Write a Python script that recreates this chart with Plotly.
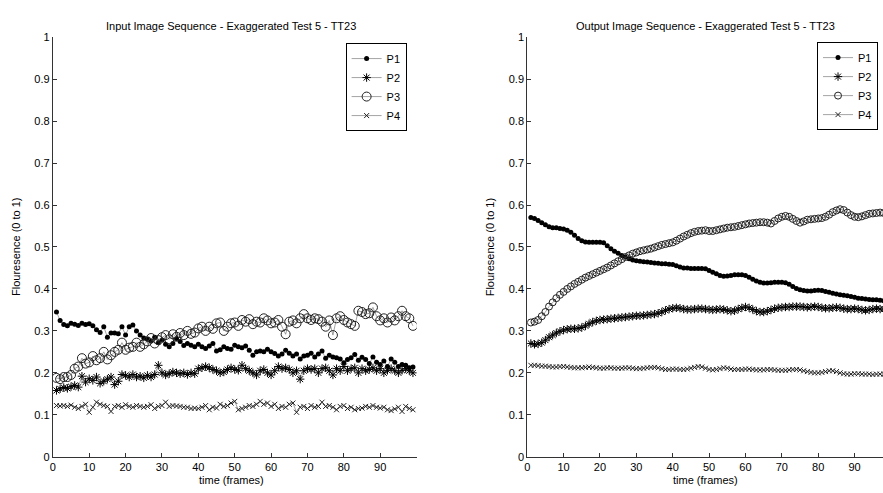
import plotly.graph_objects as go

frames = list(range(1, 100))

in_p1 = [.345, .325, .315, .312, .318, .316, .313, .318, .315, .317, .312, .303, .296, .31, .285, .295, .295, .293, .31, .29,
         .31, .314, .30, .29, .283, .28, .276, .285, .272, .278, .268, .262, .27, .282, .275, .265, .27, .266, .262, .268,
         .262, .258, .264, .27, .252, .255, .262, .258, .256, .266, .262, .26, .264, .254, .242, .25, .252, .25, .256, .25,
         .246, .24, .245, .254, .247, .24, .245, .233, .24, .242, .247, .238, .245, .252, .235, .242, .238, .236, .233, .224,
         .232, .236, .244, .23, .237, .232, .222, .238, .225, .22, .228, .215, .233, .225, .215, .22, .218, .212, .214]
in_p2 = [.158, .162, .165, .163, .167, .17, .166, .192, .178, .186, .182, .19, .175, .18, .185, .19, .172, .18, .196, .194,
         .19, .196, .19, .192, .188, .194, .19, .196, .218, .2, .195, .198, .202, .2, .198, .2, .196, .2, .198, .21,
         .212, .215, .212, .208, .205, .2, .202, .208, .212, .208, .206, .218, .21, .205, .2, .195, .205, .208, .2, .195,
         .205, .215, .21, .212, .208, .2, .205, .185, .205, .21, .208, .21, .2, .21, .212, .205, .195, .21, .205, .215,
         .205, .21, .212, .2, .21, .205, .208, .212, .205, .21, .2, .206, .21, .205, .2, .206, .21, .205, .2]
in_p3 = [.188, .185, .19, .19, .195, .21, .215, .235, .222, .225, .24, .23, .235, .25, .232, .242, .25, .255, .272, .255,
         .26, .262, .272, .262, .268, .275, .283, .27, .278, .285, .29, .28, .292, .286, .295, .29, .3, .293, .296, .306,
         .31, .3, .31, .305, .318, .32, .3, .31, .318, .32, .312, .326, .322, .328, .316, .322, .32, .33, .325, .318,
         .32, .326, .31, .292, .322, .325, .318, .33, .34, .33, .326, .33, .328, .322, .31, .325, .29, .33, .335, .326,
         .32, .316, .312, .348, .345, .34, .342, .356, .335, .325, .33, .32, .332, .325, .335, .348, .335, .33, .312]
in_p4 = [.122, .121, .122, .12, .123, .118, .115, .12, .125, .106, .118, .13, .125, .122, .12, .108, .12, .122, .118, .124,
         .12, .118, .122, .12, .118, .12, .124, .115, .12, .122, .13, .12, .122, .121, .12, .118, .118, .115, .116, .115,
         .118, .122, .112, .118, .116, .125, .12, .122, .128, .132, .112, .115, .118, .122, .12, .125, .132, .125, .128, .12,
         .125, .115, .12, .118, .125, .128, .106, .118, .12, .115, .122, .118, .12, .13, .12, .122, .118, .112, .12, .122,
         .115, .118, .112, .115, .116, .12, .118, .122, .118, .116, .118, .112, .11, .114, .118, .108, .12, .115, .112]

out_p1 = [.57, .568, .563, .558, .553, .548, .546, .546, .544, .543, .54, .535, .528, .52, .515, .512, .511, .511, .511, .511,
          .51, .503, .496, .49, .485, .48, .476, .472, .469, .467, .466, .465, .464, .463, .462, .461, .46, .46, .459, .458,
          .455, .452, .45, .45, .449, .449, .449, .449, .448, .444, .44, .436, .432, .43, .431, .432, .434, .434, .434, .432,
          .428, .423, .419, .416, .414, .414, .415, .416, .416, .416, .415, .411, .406, .401, .398, .396, .395, .395, .396, .397,
          .396, .394, .392, .39, .388, .386, .385, .384, .382, .38, .378, .377, .376, .375, .374, .374, .373, .372, .372]
out_p2 = [.27, .268, .269, .272, .278, .285, .29, .295, .299, .302, .304, .305, .305, .306, .308, .312, .317, .321, .324, .326,
          .327, .328, .329, .33, .331, .332, .333, .334, .335, .336, .336, .337, .338, .339, .34, .342, .345, .349, .352, .354,
          .355, .354, .352, .351, .351, .352, .353, .353, .352, .351, .35, .351, .352, .351, .349, .347, .348, .352, .355, .357,
          .355, .351, .347, .345, .345, .347, .35, .353, .355, .356, .357, .357, .358, .358, .358, .357, .356, .357, .358, .357,
          .355, .354, .354, .355, .356, .355, .353, .352, .352, .353, .352, .35, .349, .35, .352, .353, .352, .352, .353]
out_p3 = [.32, .322, .326, .335, .345, .358, .368, .378, .386, .393, .4, .406, .412, .417, .422, .427, .431, .435, .439, .443,
          .447, .451, .456, .461, .466, .471, .476, .48, .484, .487, .49, .492, .494, .496, .499, .502, .505, .507, .509, .511,
          .515, .52, .525, .529, .533, .536, .538, .539, .54, .538, .538, .54, .542, .544, .546, .547, .548, .55, .552, .554,
          .556, .557, .558, .559, .559, .558, .556, .562, .568, .572, .574, .572, .567, .562, .558, .561, .565, .566, .567, .568,
          .569, .572, .577, .583, .587, .59, .588, .582, .576, .572, .571, .573, .576, .579, .58, .581, .582, .581, .58]
out_p4 = [.218, .218, .217, .216, .216, .215, .214, .214, .215, .215, .214, .213, .212, .212, .212, .213, .214, .213, .212, .211,
          .211, .212, .212, .211, .211, .211, .212, .212, .211, .21, .21, .211, .212, .213, .213, .212, .21, .208, .208, .209,
          .209, .208, .208, .209, .211, .213, .215, .214, .211, .208, .207, .208, .21, .212, .211, .209, .208, .208, .208, .209,
          .209, .208, .207, .207, .207, .208, .208, .207, .206, .206, .206, .207, .208, .208, .207, .205, .203, .201, .2, .2,
          .201, .203, .205, .205, .203, .2, .198, .197, .197, .198, .198, .197, .197, .197, .196, .197, .197, .197, .197]

series_names = ["P1", "P2", "P3", "P4"]
titles = ["Input Image Sequence - Exaggerated Test 5 - TT23",
          "Output Image Sequence - Exaggerated Test 5 - TT23"]
y_ticks = [0, 0.1, 0.2, 0.3, 0.4, 0.5, 0.6, 0.7, 0.8, 0.9, 1]
y_ticklabels = ["0", "0.1", "0.2", "0.3", "0.4", "0.5", "0.6", "0.7", "0.8", "0.9", "1"]
x_ticks = [0, 10, 20, 30, 40, 50, 60, 70, 80, 90]

W, H = 883, 493
FONT = "Liberation Sans, Arial, sans-serif"

def marker_style(i, panel):
    if i == 0:
        return dict(symbol="circle", size=5, color="black", line=dict(width=0))
    if i == 1:
        return dict(symbol="asterisk-open", size=7, color="black", line=dict(width=1, color="#222"))
    if i == 2:
        return dict(symbol="circle-open", size=9 if panel == 0 else 7, color="#222", line=dict(width=1, color="#222"))
    return dict(symbol="x-thin-open", size=5, color="#222", line=dict(width=1, color="#222"))

fig = go.Figure()
panels = [(in_p1, in_p2, in_p3, in_p4), (out_p1, out_p2, out_p3, out_p4)]
for p, data in enumerate(panels):
    for i, vals in enumerate(data):
        fig.add_trace(go.Scatter(
            x=frames, y=vals, name=series_names[i], mode="lines+markers",
            line=dict(color="#666", width=0.6),
            marker=marker_style(i, p),
            xaxis="x" if p == 0 else "x2", yaxis="y" if p == 0 else "y2",
            legend="legend" if p == 0 else "legend2",
        ))

def px_x(v):
    return v / W

def px_y(v):
    return 1 - v / H

ydom = [px_y(462), px_y(32)]
axis_common = dict(showgrid=False, zeroline=False, showline=True, linecolor="#333", linewidth=1,
                   ticks="inside", ticklen=4, tickcolor="#333", mirror=False,
                   tickfont=dict(family=FONT, size=11, color="black"))

legend_common = dict(xanchor="right", yanchor="top", bordercolor="black", borderwidth=1,
                     bgcolor="white", font=dict(family=FONT, size=11), tracegroupgap=0,
                     itemwidth=30)

fig.update_layout(
    width=W, height=H, margin=dict(l=0, r=0, t=0, b=0),
    paper_bgcolor="white", plot_bgcolor="white",
    font=dict(family=FONT, size=11, color="black"),
    xaxis=dict(domain=[px_x(50), px_x(415)], range=[0, 100], tickvals=x_ticks, anchor="y", **axis_common),
    yaxis=dict(domain=ydom, range=[0, 1], tickvals=y_ticks, ticktext=y_ticklabels, anchor="x", **axis_common),
    xaxis2=dict(domain=[px_x(526), 1.0], range=[0, 97.8], tickvals=x_ticks, anchor="y2", **axis_common),
    yaxis2=dict(domain=ydom, range=[0, 1], tickvals=y_ticks, ticktext=y_ticklabels, anchor="x2", **axis_common),
    legend=dict(x=px_x(405), y=px_y(38), **legend_common),
    legend2=dict(x=px_x(878), y=px_y(37), **legend_common),
    showlegend=True,
)

annos = []
for cx, t in zip([229, 705], titles):
    annos.append(dict(text=t, x=px_x(cx), y=px_y(20), xref="paper", yref="paper", showarrow=False,
                      xanchor="center", yanchor="middle", font=dict(family=FONT, size=11)))
for cx in [229, 705]:
    annos.append(dict(text="time (frames)", x=px_x(cx), y=px_y(486), xref="paper", yref="paper", showarrow=False,
                      xanchor="center", yanchor="middle", font=dict(family=FONT, size=11)))
for lx in [13, 489]:
    annos.append(dict(text="Flouresence (0 to 1)", x=px_x(lx), y=px_y(247), xref="paper", yref="paper",
                      showarrow=False, textangle=-90, xanchor="center", yanchor="middle",
                      font=dict(family=FONT, size=11)))
fig.update_layout(annotations=annos)

fig.write_html("out.html")
